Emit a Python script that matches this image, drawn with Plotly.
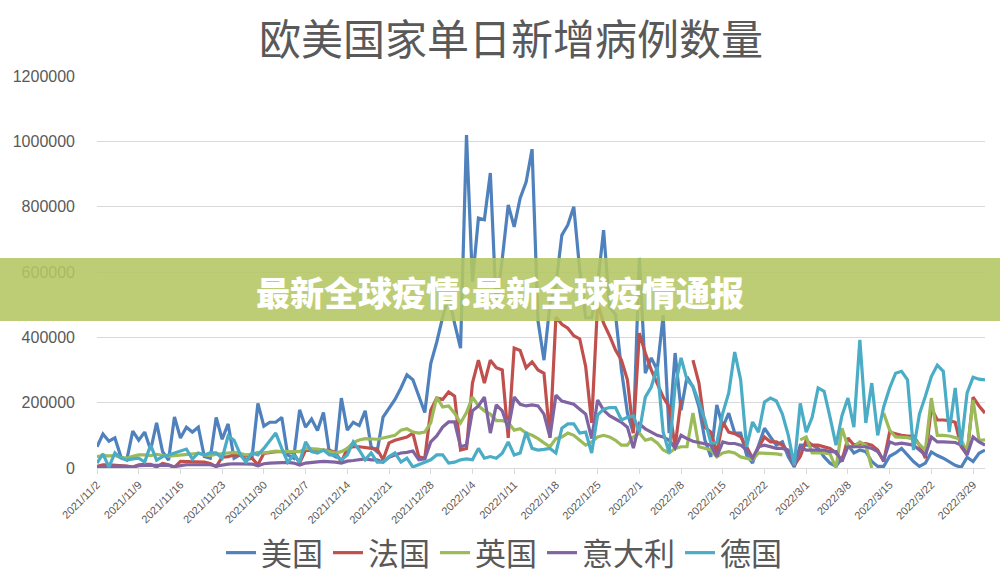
import pandas as pd
import plotly.graph_objects as go

# Dates (one point per day)
dates = pd.date_range("2021-11-02", "2022-03-31", freq="D")

# Daily new cases, in thousands
usa_k = [65,104,82,92,35,25,113,85,110,55,
         138,50,24,156,92,125,110,125,35,30,
         155,88,135,30,40,25,30,198,128,140,
         140,155,40,30,178,125,150,115,170,45,
         35,214,116,140,130,175,65,50,156,185,
         210,245,285,270,220,170,320,385,462,525,
         443,367,1019,570,765,760,903,490,640,805,
         738,826,875,976,450,330,500,560,713,744,
         800,606,460,460,560,728,493,470,300,168,
         107,643,290,337,300,468,107,352,177,279,
         248,187,86,34,193,125,168,107,107,40,
         15,70,122,95,70,80,34,3,70,70,
         70,60,34,15,5,30,70,46,55,50,
         20,5,5,36,46,60,40,20,5,15,
         49,38,30,20,8,2,33,20,45,55]

france_k = [5,10,10,9,8,6,3,10,11,11,
            3,14,10,2,20,20,20,20,18,14,
            4,33,35,40,40,38,30,10,45,48,
            50,50,50,45,15,55,55,55,56,54,
            48,18,60,65,65,62,60,58,25,77,
            85,90,95,107,34,30,177,214,210,233,
            220,55,60,260,330,260,330,307,300,92,
            367,360,307,325,300,290,92,462,440,428,
            405,395,310,138,505,443,405,361,330,270,
            107,413,352,300,260,217,187,65,208,None,
            330,260,125,110,46,141,110,105,95,65,
            30,65,95,80,80,70,50,8,35,85,
            70,70,65,60,46,20,92,70,75,75,
            70,55,20,110,105,100,98,98,70,30,
            183,147,147,145,140,65,40,217,190,168]

uk_k = [35,38,37,38,32,30,36,40,40,38,
        42,40,36,38,40,42,44,45,40,38,
        42,44,46,48,45,40,42,48,46,50,
        52,50,50,48,50,60,60,58,55,50,
        46,50,60,78,86,90,88,88,92,95,
        100,116,120,110,107,110,138,217,187,190,
        168,138,170,217,190,175,165,145,145,140,
        116,120,107,100,90,77,65,90,95,107,
        100,85,70,80,95,100,95,85,70,70,
        95,107,85,90,77,55,46,60,65,65,
        168,65,60,55,34,46,50,46,34,30,
        25,46,45,45,43,40,None,None,86,95,
        46,46,46,43,0,122,65,65,80,70,
        0,None,168,116,95,95,93,88,70,55,
        214,100,100,98,93,86,50,208,85,86]

italy_k = [3,5,5,6,6,5,2,7,8,8,
           8,9,8,4,8,10,10,10,11,10,
           6,10,12,13,13,13,12,7,13,15,
           16,17,17,15,9,15,18,19,20,20,
           18,15,21,23,26,28,25,25,18,33,
           40,46,48,52,25,28,80,98,125,141,
           141,65,70,175,190,217,107,193,175,120,
           217,195,190,193,190,165,95,223,205,200,
           195,180,165,90,208,177,160,150,140,125,
           61,135,120,110,100,95,85,61,100,90,
           82,78,75,70,35,80,75,75,70,55,
           30,65,70,65,60,60,55,5,65,55,
           55,55,55,50,50,20,65,65,65,65,
           60,50,24,80,73,76,73,70,55,40,
           95,80,80,78,78,70,40,95,80,70]

germany_k = [15,43,3,46,30,24,28,30,18,70,
             24,35,40,46,50,58,27,46,40,46,
             46,30,98,85,43,18,46,40,60,85,
             107,60,18,40,18,80,50,46,55,40,
             40,25,40,80,55,25,46,18,18,35,
             46,18,30,3,10,18,25,40,40,15,
             18,25,28,25,60,30,35,30,45,80,
             40,46,110,60,55,57,60,46,122,135,
             135,107,110,46,162,180,185,185,147,155,
             160,110,217,248,310,110,46,250,337,270,
             250,202,147,77,77,168,230,355,270,65,
             141,110,202,214,205,165,100,8,198,110,
             155,245,235,155,70,160,214,125,392,138,
             260,100,187,245,290,296,270,55,165,220,
             280,315,296,110,245,70,230,278,272,270]

series_names = ["美国", "法国", "英国", "意大利", "德国"]
series_vals = [usa_k, france_k, uk_k, italy_k, germany_k]
series_colors = ["#4F81BD", "#C0504D", "#9BBB59", "#8064A2", "#4BACC6"]

tick_dates = pd.date_range("2021-11-02", "2022-03-29", freq="7D")
tick_text = [f"{d.year}/{d.month}/{d.day}" for d in tick_dates]

fig = go.Figure()
for name, vals, col in zip(series_names, series_vals, series_colors):
    fig.add_trace(go.Scatter(
        x=dates, y=[None if v is None else v * 1000 for v in vals],
        mode="lines", name=name,
        line=dict(color=col, width=3.2),
        connectgaps=False,
    ))

fig.update_layout(
    width=1000, height=578,
    paper_bgcolor="white", plot_bgcolor="white",
    margin=dict(l=97, r=15, t=76, b=110, autoexpand=False),
    title=dict(text="欧美国家单日新增病例数量", x=0.511, xanchor="center",
               y=1 - 40 / 578, yanchor="middle", yref="container",
               font=dict(family="Noto Sans CJK SC", size=42, color="#595959")),
    showlegend=True,
    legend=dict(orientation="h", xref="container", yref="container",
                x=0.504, xanchor="center", y=1 - 553 / 578, yanchor="middle",
                font=dict(family="Noto Sans CJK SC", size=31, color="#595959"),
                itemwidth=30, tracegroupgap=0, bgcolor="rgba(0,0,0,0)"),
    font=dict(family="Liberation Sans", color="#595959"),
)

fig.update_yaxes(range=[0, 1200000], dtick=200000, tickformat="d",
                 showgrid=True, gridcolor="#D9D9D9", gridwidth=1,
                 zeroline=False, showline=False, ticks="",
                 tickfont=dict(family="Liberation Sans", size=16, color="#595959"),
                 ticklabelstandoff=21, automargin=False)
fig.update_xaxes(type="date",
                 range=[dates[0], dates[-1]],
                 tickvals=tick_dates, ticktext=tick_text, tickangle=-45,
                 tickfont=dict(family="Liberation Sans", size=11, color="#595959"),
                 showgrid=False, showline=True, linecolor="#D9D9D9", linewidth=1,
                 ticks="outside", tickcolor="#D9D9D9", ticklen=5, zeroline=False,
                 automargin=False)

# Overlay banner
fig.add_shape(type="rect", xref="paper", yref="paper",
              x0=-97 / 888, x1=903 / 888,
              y0=(468 - 321) / 392, y1=(468 - 258) / 392,
              fillcolor="rgba(180,198,98,0.88)", line=dict(width=0), layer="above")
fig.add_annotation(text="最新全球疫情:最新全球疫情通报", xref="paper", yref="paper",
                   x=(500 - 97) / 888, y=(468 - 291) / 392, showarrow=False,
                   xanchor="center", yanchor="middle",
                   font=dict(family="Noto Sans CJK SC", size=34, color="white", weight=900))

fig.write_html("out.html")
